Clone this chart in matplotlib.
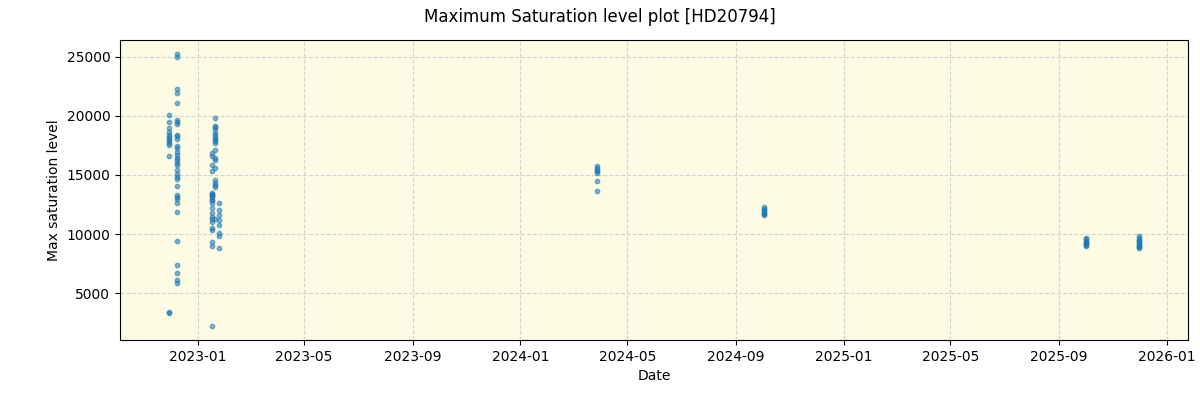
import matplotlib.pyplot as plt
import matplotlib.dates as dates
import pandas as pd

# observation nights and the max saturation levels read for each one
night_a = ["2022-11-29"] * 13
sat_a = [20100, 19500, 19000, 18600, 18400, 18200, 18050, 17900, 17700, 17500,
         16600, 3450, 3300]

night_b = ["2022-12-08"] * 34
sat_b = [25250, 25000, 22250, 21950, 21050, 19650, 19500, 19300, 18400, 18250,
         18000, 17450, 17250, 16900, 16700, 16400, 16250, 16000, 15850, 15400,
         15100, 14850, 14650, 14050, 13300, 13100, 12950, 12600, 11850, 9450,
         7350, 6750, 6100, 5900]

night_c = ["2023-01-21"] * 11
sat_c = [19800, 19150, 19050, 18850, 18550, 18400, 18150, 18050, 17900, 17700,
         17100]

night_d = ["2023-01-17"] * 22
sat_d = [16850, 16600, 15850, 15350, 13450, 13300, 13100, 12900, 12650, 12200,
         11750, 11450, 11050, 10500, 10350, 9350, 9000, 2200, 13350, 13200,
         12850, 11300]

night_e = ["2023-01-20"] * 8
sat_e = [16400, 16250, 15550, 14600, 14350, 14150, 14000, 11250]

night_f = ["2023-01-25"] * 8
sat_f = [12600, 12050, 11600, 11200, 10750, 10100, 9800, 8850]

night_g = ["2024-03-28"] * 7
sat_g = [15750, 15550, 15400, 15300, 15150, 14500, 13600]

night_h = ["2024-10-02"] * 7
sat_h = [12250, 12100, 12000, 11900, 11800, 11700, 11600]

night_i = ["2025-10-01"] * 8
sat_i = [9650, 9550, 9450, 9350, 9250, 9150, 9050, 8950]

night_j = ["2025-12-01"] * 10
sat_j = [9850, 9650, 9500, 9400, 9300, 9200, 9100, 9000, 8900, 8800]

nights = (night_a + night_b + night_c + night_d + night_e + night_f
          + night_g + night_h + night_i + night_j)
levels = sat_a + sat_b + sat_c + sat_d + sat_e + sat_f + sat_g + sat_h + sat_i + sat_j

df = pd.DataFrame({"date": pd.to_datetime(nights), "level": levels})

fig, ax = plt.subplots(figsize=(12, 4), dpi=100)
fig.subplots_adjust(left=0.1, right=0.99, top=0.9, bottom=0.15)

ax.set_facecolor("#fdfbe3")
ax.scatter(df["date"], df["level"], s=10, color="tab:blue", alpha=0.55, zorder=3)
ax.grid(True, linestyle="--", color="lightgray", zorder=0)

ax.set_xlabel("Date")
ax.set_ylabel("Max saturation level")
ax.xaxis.set_major_locator(dates.MonthLocator(bymonth=[1, 5, 9]))
ax.xaxis.set_major_formatter(dates.DateFormatter("%Y-%m"))
fig.suptitle("Maximum Saturation level plot [HD20794]")

fig.savefig("out.png")
